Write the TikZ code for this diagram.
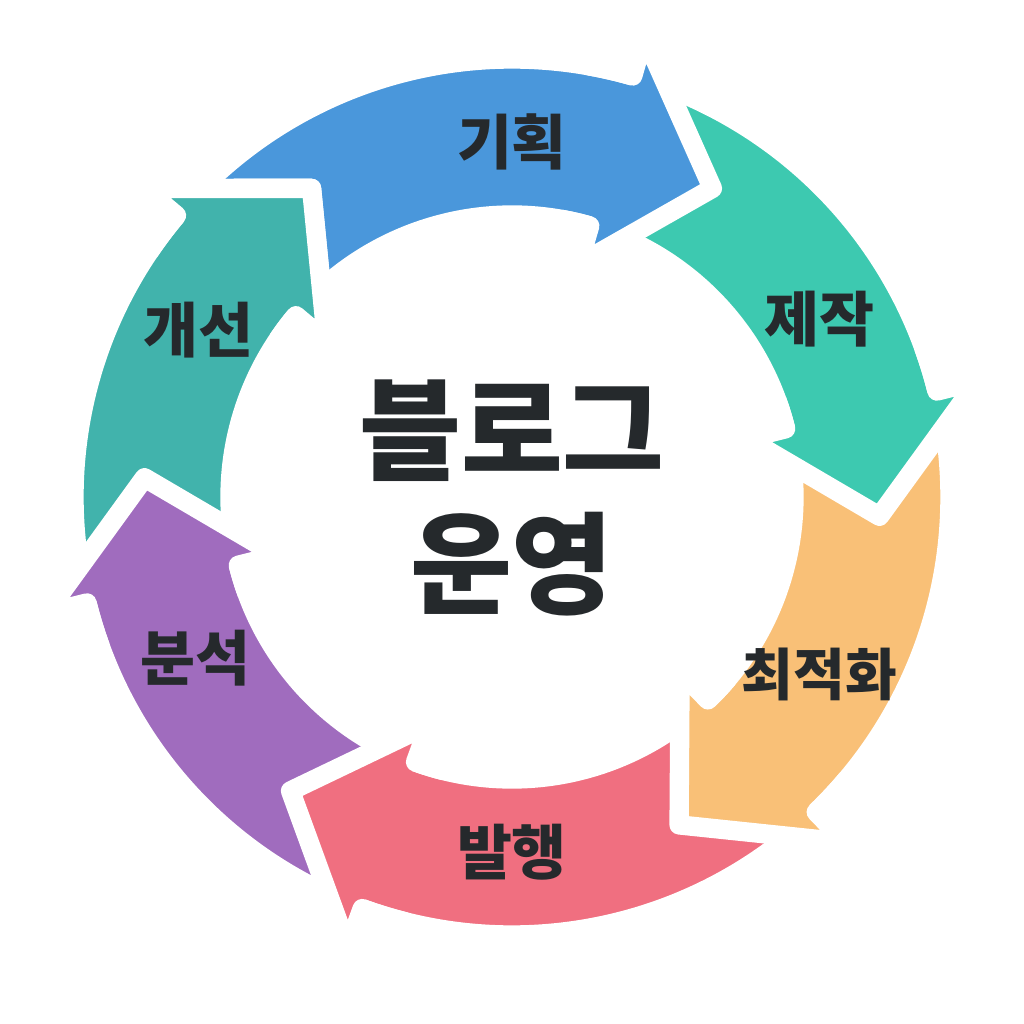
\documentclass[tikz,border=0pt]{standalone}
\usepackage{fontspec}
\setmainfont{Noto Sans CJK KR}
\usepackage{tikz}
\usetikzlibrary{calc}
\definecolor{cyBlue}  {RGB}{ 74,151,219}
\definecolor{cyGreen} {RGB}{ 61,201,176}
\definecolor{cyOrange}{RGB}{249,192,119}
\definecolor{cyRed}   {RGB}{240,111,128}
\definecolor{cyPurple}{RGB}{160,108,190}
\definecolor{cyTeal}  {RGB}{ 65,179,172}
\definecolor{cyText}  {RGB}{ 37, 41, 44}

\begin{document}
\begin{tikzpicture}[
  gap/.style={draw=white,line width=5.5pt,line join=round},
  lbl/.style={font=\bfseries\fontsize{#1}{#1}\selectfont,text=cyText},
  title/.style={font=\bfseries\fontsize{31.5}{38}\selectfont,text=cyText,align=center}
]
\useasboundingbox (-5.12,-5.27) rectangle (5.12,4.97);
% bands, tail end hidden under the previous head (\d = own head shift, \p = previous one)
\foreach \c/\col/\d/\p in {90/cyBlue/0/6,30/cyGreen/0/0,-30/cyOrange/0/0,
    -90/cyRed/-4/0,-150/cyPurple/0/-4,150/cyTeal/6/0}{
  \pgfmathsetmacro{\ta}{\c+41.5+\p}
  \pgfmathsetmacro{\hb}{\c-16+\d}
  \pgfmathsetmacro{\tp}{\c-33+\d}
  \filldraw[gap,fill=\col] (\ta:4.38) arc[start angle=\ta,end angle=\hb,radius=4.38]
    -- (\hb:4.80) -- (\tp:3.68) -- (\hb:2.42) -- (\hb:2.82)
    arc[start angle=\hb,end angle=\ta,radius=2.82] -- cycle;
}
% heads on top
\foreach \c/\col/\d in {90/cyBlue/0,30/cyGreen/0,-30/cyOrange/0,
    -90/cyRed/-4,-150/cyPurple/0,150/cyTeal/6}{
  \pgfmathsetmacro{\hb}{\c-16+\d}
  \pgfmathsetmacro{\tp}{\c-33+\d}
  \pgfmathsetmacro{\hr}{\c-10+\d}
  \fill[\col] (\hb:4.80) -- (\tp:3.68) -- (\hb:2.42) -- cycle;
  \draw[gap] (\hr:4.38) arc[start angle=\hr,end angle=\hb,radius=4.38]
    -- (\hb:4.80) -- (\tp:3.68) -- (\hb:2.42) -- (\hb:2.82)
    arc[start angle=\hb,end angle=\hr,radius=2.82];
}
\foreach \c/\name/\fs/\txt in {90/plan/17/기획,30/make/17/제작,-30/optim/16/최적화,
    -90/publish/17/발행,-153/analyse/17/분석,152/improve/17/개선}
  \node[lbl=\fs] (\name) at (\c:3.55) {\txt};
\node[title] (blog) at (0,-0.01) {블로그\\운영};
\end{tikzpicture}
\end{document}
